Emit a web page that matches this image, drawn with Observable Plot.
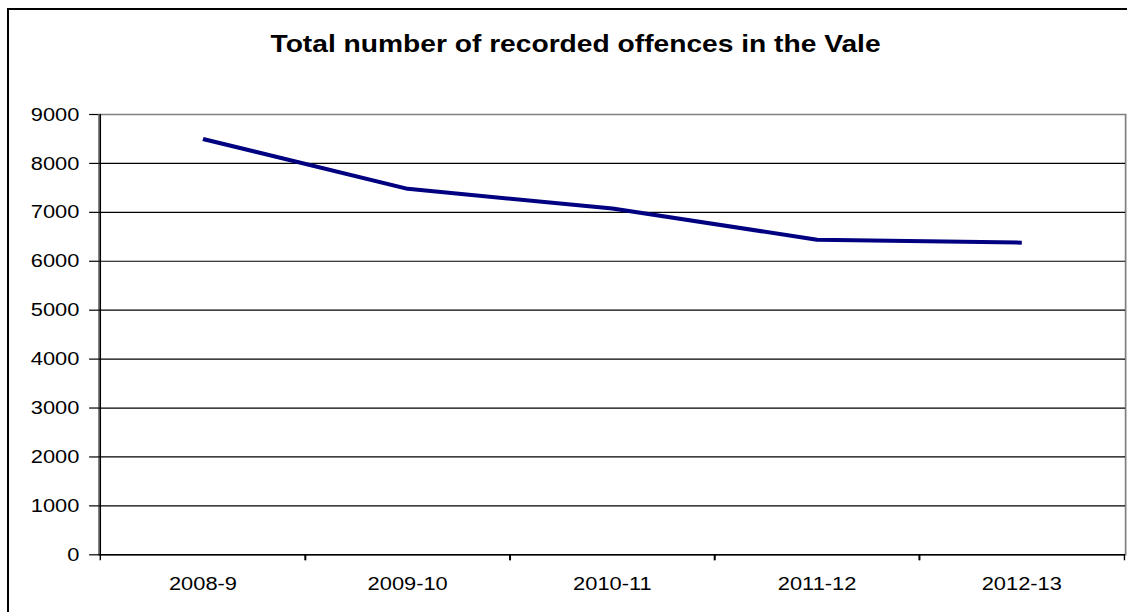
<!DOCTYPE html>
<html>
<head>
<meta charset="utf-8">
<script src="https://cdn.jsdelivr.net/npm/d3@7"></script>
<script src="https://cdn.jsdelivr.net/npm/@observablehq/plot@0.6"></script>
<style>
  html, body { margin: 0; padding: 0; overflow: hidden; background: #fff; width: 1127px; height: 612px; }
  #stage { position: absolute; left: 0; top: 0; width: 980px; height: 612px; transform: scaleX(1.15); transform-origin: 0 0; }
  #title { position: absolute; left: 0; top: 31.8px; width: 1001px; text-align: center;
           font: bold 24.5px "Liberation Sans", Arial, sans-serif; line-height: 24.5px; color: #000; white-space: nowrap; }
  #chart { position: absolute; left: 0; top: 0; }
  #border { position: absolute; left: 7px; top: 8px; width: 1300px; height: 900px; border: 2px solid #000; pointer-events: none; z-index: 5; }
</style>
</head>
<body>
<div id="stage">
  <div id="chart"></div>
  <div id="title"></div>
</div>
<div id="border"></div>
<script>
const categories = ["2008-9", "2009-10", "2010-11", "2011-12", "2012-13"];
const offences = [8500, 7480, 7080, 6440, 6380];
const yTicks = [0, 1000, 2000, 3000, 4000, 5000, 6000, 7000, 8000, 9000];
const titleText = "Total number of recorded offences in the Vale";

const data = categories.map((c, i) => ({period: c, value: offences[i]}));

const W = 980, H = 612;
const mL = 85.5, mR = 1.7, mT = 114, mB = 57.7;
const step = (W - mL - mR) / categories.length;

document.getElementById("title").textContent = titleText;

const chart = Plot.plot({
  width: W,
  height: H,
  marginLeft: mL,
  marginRight: mR,
  marginTop: mT,
  marginBottom: mB,
  style: {
    background: "transparent",
    maxWidth: "none",
    overflow: "visible",
    fontFamily: "'Liberation Sans', Arial, sans-serif",
    fontSize: "19px",
    color: "#000"
  },
  x: {type: "point", domain: categories, padding: 0.5, label: null},
  y: {domain: [0, 9000], label: null},
  marks: [
    Plot.frame({stroke: "#808080", strokeWidth: 1.5}),
    Plot.ruleY(yTicks.filter(d => d > 0 && d < 9000), {stroke: "#000", strokeWidth: 1.2}),
    Plot.ruleY([0], {stroke: "#000", strokeWidth: 1.5}),
    Plot.ruleX([categories[0]], {dx: -step / 2, stroke: "#000", strokeWidth: 1.3}),
    Plot.axisY({ticks: yTicks, tickSize: 8, tickPadding: 9, tickFormat: d => String(d), stroke: "#000", strokeWidth: 1.2}),
    Plot.axisX({tickSize: 0, tickPadding: 22}),
    Plot.axisX({tickSize: 6, tickFormat: () => "", dx: step / 2, stroke: "#000", strokeWidth: 1.2}),
    Plot.axisX({tickSize: 6, tickFormat: () => "", dx: -step / 2, stroke: "#000", strokeWidth: 1.2}),
    Plot.line(data, {x: "period", y: "value", stroke: "#000080", strokeWidth: 4, strokeLinecap: "butt", strokeLinejoin: "miter"})
  ]
});

document.getElementById("chart").appendChild(chart);
</script>
</body>
</html>
